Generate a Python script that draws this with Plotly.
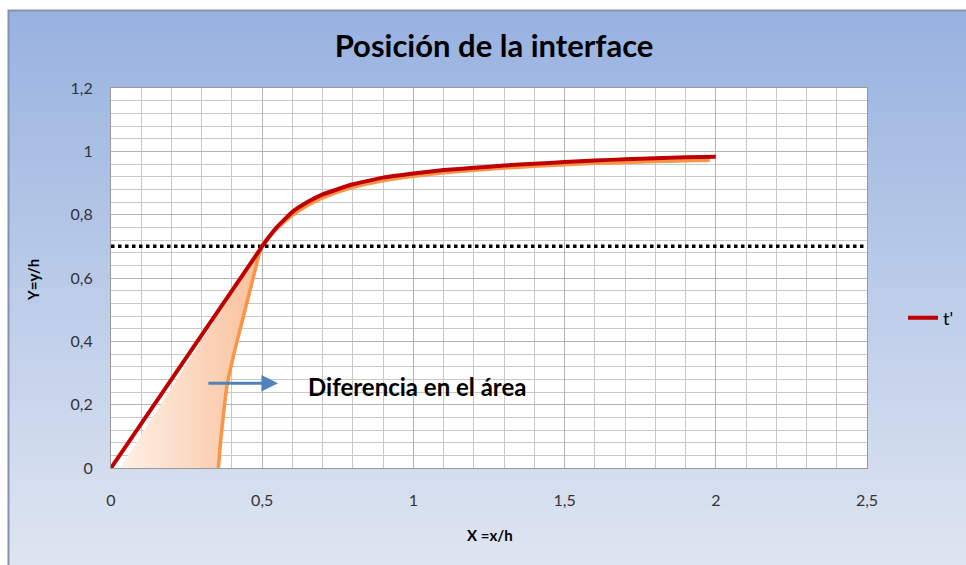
import plotly.graph_objects as go

# ---- data ----
red_x = [0, 0.5, 0.55, 0.6, 0.65, 0.7, 0.8, 0.9, 1.0, 1.1, 1.2, 1.3, 1.4, 1.5, 1.6, 1.7, 1.8, 1.9, 2.0]
red_y = [0, 0.70, 0.762, 0.809, 0.840, 0.864, 0.896, 0.917, 0.930, 0.941, 0.948, 0.955, 0.961, 0.966, 0.971, 0.975, 0.978, 0.981, 0.983]

orange_x = [0.355, 0.362, 0.371, 0.383, 0.404, 0.432, 0.460, 0.482, 0.498, 0.52, 0.55, 0.6, 0.65, 0.7, 0.8,
            0.9, 1.0, 1.1, 1.2, 1.3, 1.4, 1.5, 1.6, 1.7, 1.8, 1.9, 1.98]
orange_y = [0, 0.08, 0.162, 0.257, 0.351, 0.457, 0.562, 0.646, 0.700, 0.728, 0.757, 0.798, 0.829, 0.853, 0.886,
            0.907, 0.921, 0.932, 0.940, 0.947, 0.953, 0.958, 0.962, 0.965, 0.968, 0.970, 0.972]

area_left_x = [0.03, 0.49]
area_left_y = [0.0, 0.686]

threshold_x = [0, 2.5]
threshold_y = [0.7, 0.7]

x_ticks = [0, 0.5, 1, 1.5, 2, 2.5]
y_ticks = [0, 0.2, 0.4, 0.6, 0.8, 1, 1.2]

title_text = "Posición de la interface"
x_title = "X =x/h"
y_title = "Y=y/h"
note_text = "Diferencia en el área"
series_name = "t'"

FONT = "Lato"
W, H = 966, 565
ML, MR, MT, MB = 111, 99, 88, 97
PW, PH = W - ML - MR, H - MT - MB


def px_to_paper_x(px):
    return (px - ML) / PW


def px_to_paper_y(py):
    return (H - MB - py) / PH


# ---- area polygon (left edge + orange curve reversed up to y=0.7) ----
n_top = orange_y.index(0.700)
area_x = area_left_x + orange_x[:n_top + 1][::-1]
area_y = area_left_y + orange_y[:n_top + 1][::-1]

fig = go.Figure()

fig.add_trace(go.Scatter(
    x=area_x, y=area_y, mode="none", fill="toself",
    fillgradient=dict(type="horizontal",
                      colorscale=[[0, "#FFF1E8"], [1, "#F9C09A"]]),
    showlegend=False, hoverinfo="skip"))

fig.add_trace(go.Scatter(
    x=threshold_x, y=threshold_y, mode="lines",
    line=dict(color="black", width=3.5, dash="dot"),
    showlegend=False, hoverinfo="skip"))

fig.add_trace(go.Scatter(
    x=orange_x, y=orange_y, mode="lines",
    line=dict(color="#F79646", width=3.5, shape="spline", smoothing=0.6),
    showlegend=False))

fig.add_trace(go.Scatter(
    x=red_x, y=red_y, mode="lines", name=series_name,
    line=dict(color="#C00000", width=4, shape="spline", smoothing=0.3)))

# ---- background gradient bands ----
shapes = []
top_c = (152, 178, 224)
bot_c = (222, 229, 241)
y_top, y_bot = 10, 565
N = 70
for i in range(N):
    t = i / (N - 1)
    c = tuple(int(round(top_c[k] + (bot_c[k] - top_c[k]) * t)) for k in range(3))
    y0 = y_top + (y_bot - y_top) * i / N
    y1 = y_top + (y_bot - y_top) * (i + 1) / N + 1
    shapes.append(dict(type="rect", xref="paper", yref="paper", layer="below",
                       x0=px_to_paper_x(8), x1=px_to_paper_x(W + 2),
                       y0=px_to_paper_y(y1), y1=px_to_paper_y(y0),
                       fillcolor="rgb(%d,%d,%d)" % c, line=dict(width=0)))
# frame border
shapes.append(dict(type="rect", xref="paper", yref="paper", layer="below",
                   x0=px_to_paper_x(8.5), x1=px_to_paper_x(W + 5),
                   y0=px_to_paper_y(H + 5), y1=px_to_paper_y(10.5),
                   fillcolor="rgba(0,0,0,0)", line=dict(color="#8393AE", width=2)))
# white plot area
shapes.append(dict(type="rect", xref="paper", yref="paper", layer="below",
                   x0=0, x1=1, y0=0, y1=1, fillcolor="white", line=dict(width=0)))

annotations = [
    dict(x=0.552, y=0.268, ax=0.317, ay=0.268, xref="x", yref="y", axref="x", ayref="y",
         text="", showarrow=True, arrowhead=2, arrowsize=1.1, arrowwidth=3, arrowcolor="#4F81BD"),
    dict(x=0.645, y=0.258, xref="x", yref="y", text="<b>%s</b>" % note_text, showarrow=False,
         xanchor="left", yanchor="middle", font=dict(family=FONT, size=24, color="black")),
    dict(x=px_to_paper_x(490), y=px_to_paper_y(535), xref="paper", yref="paper",
         text="<b>%s</b>" % x_title, showarrow=False, xanchor="center", yanchor="middle",
         font=dict(family=FONT, size=15, color="black")),
    dict(x=px_to_paper_x(33), y=px_to_paper_y(280), xref="paper", yref="paper",
         text="<b>%s</b>" % y_title, showarrow=False, textangle=-90, xanchor="center", yanchor="middle",
         font=dict(family=FONT, size=15, color="black")),
]

fig.update_layout(
    width=W, height=H,
    margin=dict(l=ML, r=MR, t=MT, b=MB, autoexpand=False),
    paper_bgcolor="white", plot_bgcolor="white",
    separators=",.",
    title=dict(text="<b>%s</b>" % title_text, x=px_to_paper_x(494), xref="paper", xanchor="center",
               y=1 - 46 / H, yanchor="middle", font=dict(family=FONT, size=31, color="black")),
    font=dict(family=FONT, size=16, color="#333333"),
    shapes=shapes, annotations=annotations,
    legend=dict(x=px_to_paper_x(903), y=px_to_paper_y(318), xanchor="left", yanchor="middle",
                bgcolor="rgba(0,0,0,0)", font=dict(family=FONT, size=18, color="black")),
    showlegend=True,
)

fig.update_xaxes(range=[0, 2.5], tickvals=x_ticks, ticktext=[str(v).replace(".", ",") for v in x_ticks],
                 showgrid=True, gridcolor="#B3B3B3", gridwidth=1,
                 minor=dict(dtick=0.1, showgrid=True, gridcolor="#C8C8C8", gridwidth=1),
                 showline=True, linecolor="#9A9A9A", linewidth=1, mirror=True,
                 zeroline=False, ticks="outside", ticklen=18, tickcolor="rgba(0,0,0,0)",
                 tickfont=dict(family=FONT, size=16, color="#333333"))
fig.update_yaxes(range=[0, 1.2], tickvals=y_ticks, ticktext=[str(v).replace(".", ",") for v in y_ticks],
                 showgrid=True, gridcolor="#B3B3B3", gridwidth=1,
                 minor=dict(dtick=0.04, showgrid=True, gridcolor="#C8C8C8", gridwidth=1),
                 showline=True, linecolor="#9A9A9A", linewidth=1, mirror=True,
                 zeroline=False, ticks="outside", ticklen=14, tickcolor="rgba(0,0,0,0)",
                 tickfont=dict(family=FONT, size=16, color="#333333"))

fig.write_html("out.html")
